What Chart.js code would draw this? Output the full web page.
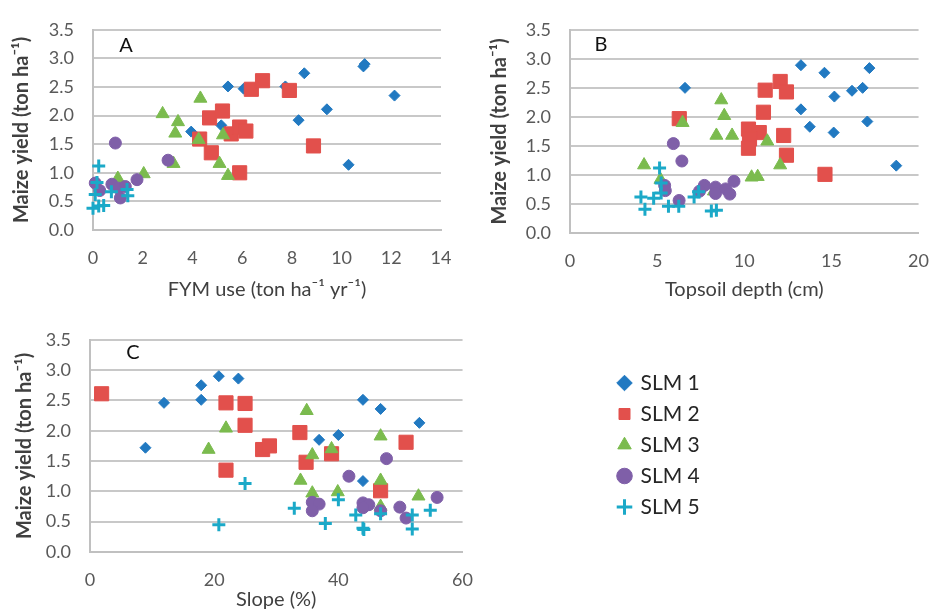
<!DOCTYPE html>
<html lang="en">
<head>
    <meta charset="UTF-8">
    <title>Maize yield vs FYM use, topsoil depth and slope</title>
    <script src="https://cdn.jsdelivr.net/npm/chart.js"></script>
    <style>
        body {
            margin: 0;
            background: #ffffff;
            font-family: Lato, "Noto Sans", sans-serif;
        }
        .wrap {
            position: relative;
            width: 946px;
            height: 613px;
            overflow: hidden;
        }
        .panel {
            position: absolute;
        }
        .letter {
            position: absolute;
            font-size: 20px;
            color: #111;
            transform: translate(-50%, -50%);
        }
    </style>
</head>
<body>
<div class="wrap">
    <div class="panel" style="left:0;top:0;width:470px;height:310px"><canvas id="chartA"></canvas></div>
    <div class="panel" style="left:470px;top:0;width:476px;height:310px"><canvas id="chartB"></canvas></div>
    <div class="panel" style="left:0;top:310px;width:490px;height:303px"><canvas id="chartC"></canvas></div>
    <div class="panel" style="left:609px;top:335px;width:250px;height:220px"><canvas id="legendChart"></canvas></div>
    <div class="letter" style="left:126px;top:44px">A</div>
    <div class="letter" style="left:601px;top:43px">B</div>
    <div class="letter" style="left:133px;top:351px">C</div>
</div>

<script>
    // series names
    const seriesNames = ['SLM 1', 'SLM 2', 'SLM 3', 'SLM 4', 'SLM 5'];

    // A: FYM use (ton/ha/yr) vs maize yield (ton/ha), [x, y]
    const fymSlm1 = [[3.95,1.72],[5.16,1.83],[5.43,2.51],[6.06,2.47],[7.74,2.51],[8.5,2.74],[8.27,1.92],[9.41,2.11],[10.28,1.14],[10.88,2.86],[10.93,2.9],[12.13,2.35]];
    const fymSlm2 = [[4.29,1.59],[4.69,1.96],[5.21,2.08],[4.76,1.35],[5.56,1.68],[5.9,1.8],[6.15,1.73],[5.9,1.0],[6.37,2.46],[6.82,2.61],[7.9,2.44],[8.87,1.47]];
    const fymSlm3 = [[2.8,2.03],[4.32,2.3],[3.42,1.89],[3.31,1.69],[4.25,1.58],[5.23,1.66],[3.24,1.16],[5.09,1.16],[5.43,0.95],[2.04,0.98],[1.0,0.9]];
    const fymSlm4 = [[0.9,1.52],[3.02,1.22],[1.77,0.88],[0.09,0.82],[0.27,0.69],[0.76,0.8],[1.03,0.73],[1.3,0.76],[1.1,0.56]];
    const fymSlm5 = [[0.23,1.12],[0.16,0.83],[0.09,0.62],[0.0,0.38],[0.23,0.42],[0.43,0.43],[0.74,0.67],[1.37,0.71],[1.4,0.6]];

    // B: topsoil depth (cm) vs maize yield
    const depthSlm1 = [[6.6,2.5],[13.25,2.89],[14.6,2.76],[17.18,2.84],[13.25,2.13],[13.76,1.83],[15.17,2.35],[16.18,2.45],[16.79,2.5],[17.06,1.92],[15.13,1.73],[18.72,1.16]];
    const depthSlm2 = [[6.27,1.97],[12.06,2.61],[11.2,2.46],[12.42,2.43],[11.1,2.08],[10.24,1.79],[10.86,1.73],[10.3,1.62],[10.24,1.46],[12.26,1.68],[12.42,1.34],[14.63,1.01]];
    const depthSlm3 = [[4.25,1.17],[5.19,0.92],[6.46,1.9],[8.68,2.29],[8.85,2.02],[8.4,1.68],[9.3,1.68],[11.32,1.58],[12.06,1.17],[10.42,0.96],[10.77,0.97],[8.26,0.72]];
    const depthSlm4 = [[5.93,1.54],[6.42,1.24],[5.43,0.82],[5.47,0.73],[6.26,0.56],[7.71,0.82],[7.43,0.72],[8.35,0.79],[8.35,0.68],[8.93,0.76],[9.17,0.67],[9.41,0.89]];
    const depthSlm5 = [[5.14,1.12],[5.23,0.86],[5.23,0.69],[4.07,0.62],[4.8,0.6],[4.3,0.41],[5.65,0.46],[6.24,0.46],[7.12,0.62],[7.38,0.71],[8.11,0.38],[8.4,0.39]];

    // C: slope (%) vs maize yield
    const slopeSlm1 = [[8.93,1.72],[11.92,2.46],[17.91,2.75],[17.91,2.51],[20.75,2.9],[23.9,2.86],[36.9,1.85],[40.0,1.93],[43.96,2.51],[46.8,2.36],[43.96,1.17],[53.05,2.13]];
    const slopeSlm2 = [[1.87,2.61],[21.9,2.46],[24.97,2.45],[24.97,2.09],[21.9,1.35],[27.8,1.69],[28.9,1.75],[33.8,1.97],[34.8,1.48],[38.9,1.62],[46.8,1.01],[50.9,1.81]];
    const slopeSlm3 = [[19.1,1.69],[21.9,2.04],[34.9,2.33],[35.8,1.6],[33.9,1.18],[35.8,0.97],[38.9,1.7],[39.9,0.99],[46.8,1.91],[46.8,1.18],[46.8,0.75],[52.9,0.92]];
    const slopeSlm4 = [[41.7,1.25],[47.75,1.54],[35.8,0.82],[36.9,0.79],[35.8,0.68],[43.96,0.81],[44.9,0.78],[43.96,0.73],[46.8,0.68],[49.9,0.74],[50.9,0.56],[55.9,0.9]];
    const slopeSlm5 = [[24.97,1.13],[20.75,0.45],[32.9,0.72],[37.9,0.47],[40.0,0.86],[42.8,0.61],[43.96,0.39],[44.1,0.37],[46.8,0.63],[51.9,0.61],[51.9,0.38],[54.8,0.69]];

    // axis ticks
    const yieldTicks = [0, 3.5, 0.5];  // min, max, step
    const fymTicks = [0, 14, 2];
    const depthTicks = [0, 20, 5];
    const slopeTicks = [0, 60, 20];

    const styles = [
        { pointStyle: 'rectRot', radius: 5.5, color: '#2179c1', borderWidth: 1 },
        { pointStyle: 'rect', radius: 10, color: '#e2504c', borderWidth: 1 },
        { pointStyle: 'triangle', radius: 7.5, color: '#7bbb4e', borderWidth: 1 },
        { pointStyle: 'circle', radius: 6, color: '#7f5fa8', borderWidth: 1 },
        { pointStyle: 'cross', radius: 6.5, color: '#1ba9c8', borderWidth: 3 }
    ];

    Chart.defaults.font.family = 'Lato, "Noto Sans", sans-serif';
    Chart.defaults.animation = false;

    function makeDatasets(seriesList) {
        return seriesList.map((pts, i) => ({
            label: seriesNames[i],
            data: pts.map(p => ({ x: p[0], y: p[1] })),
            pointStyle: styles[i].pointStyle,
            pointRadius: styles[i].radius,
            pointHoverRadius: styles[i].radius,
            backgroundColor: styles[i].color,
            borderColor: styles[i].color,
            pointBorderWidth: styles[i].borderWidth,
            borderWidth: styles[i].borderWidth,
            clip: false,
            order: 5 - i
        }));
    }

    function panel(id, seriesList, xTicks, xTitle, cfg) {
        new Chart(document.getElementById(id), {
            type: 'scatter',
            data: { datasets: makeDatasets(seriesList) },
            options: {
                responsive: true,
                maintainAspectRatio: false,
                layout: { padding: { top: cfg.top, right: cfg.right, bottom: 0, left: 0 } },
                plugins: { legend: { display: false }, tooltip: { enabled: false } },
                scales: {
                    x: {
                        type: 'linear',
                        min: xTicks[0], max: xTicks[1],
                        ticks: { stepSize: xTicks[2], color: '#595959', font: { size: 18 }, padding: cfg.xPad },
                        grid: { display: false, drawTicks: false },
                        border: { display: true, color: '#c0c0c0', width: 2 },
                        title: { display: true, text: xTitle, color: '#404040', font: { size: 20 }, padding: { top: 0, bottom: cfg.xTitlePad } },
                        afterFit: s => { s.height = cfg.xHeight; }
                    },
                    y: {
                        min: yieldTicks[0], max: yieldTicks[1],
                        ticks: { stepSize: yieldTicks[2], color: '#595959', font: { size: 18 }, padding: 19,
                                 callback: v => Number(v).toFixed(1) },
                        grid: { color: '#c8c8c8', lineWidth: 2, drawTicks: false },
                        border: { display: true, color: '#c0c0c0', width: 2 },
                        title: { display: true, text: 'Maize yield (ton ha\u207B\u00B9)', color: '#404040',
                                 font: { size: 20, weight: 'bold' }, padding: { top: cfg.yTitlePad, bottom: 0 } },
                        afterFit: s => { s.width = cfg.yWidth; }
                    }
                }
            }
        });
    }

    panel('chartA', [fymSlm1, fymSlm2, fymSlm3, fymSlm4, fymSlm5], fymTicks,
        'FYM use (ton ha\u207B\u00B9 yr\u207B\u00B9)',
        { top: 23, right: 29, xHeight: 80, yWidth: 93, xPad: 17, xTitlePad: 8, yTitlePad: 10 });

    panel('chartB', [depthSlm1, depthSlm2, depthSlm3, depthSlm4, depthSlm5], depthTicks,
        'Topsoil depth (cm)',
        { top: 23, right: 13, xHeight: 77, yWidth: 100, xPad: 17, xTitlePad: 8, yTitlePad: 18 });

    panel('chartC', [slopeSlm1, slopeSlm2, slopeSlm3, slopeSlm4, slopeSlm5], slopeTicks,
        'Slope (%)',
        { top: 24, right: 26, xHeight: 61, yWidth: 90, xPad: 17, xTitlePad: 1, yTitlePad: 13 });

    // legend only
    new Chart(document.getElementById('legendChart'), {
        type: 'scatter',
        data: {
            datasets: seriesNames.map((name, i) => ({
                label: name,
                data: [],
                pointStyle: styles[i].pointStyle,
                backgroundColor: styles[i].color,
                borderColor: styles[i].color,
                borderWidth: styles[i].borderWidth
            }))
        },
        options: {
            responsive: true,
            maintainAspectRatio: false,
            layout: { padding: 0 },
            plugins: {
                tooltip: { enabled: false },
                legend: {
                    position: 'left',
                    labels: {
                        usePointStyle: true,
                        boxWidth: 11,
                        boxHeight: 11,
                        padding: 10,
                        color: '#262626',
                        font: { size: 21 }
                    }
                }
            },
            scales: { x: { display: false }, y: { display: false } }
        }
    });
</script>
</body>
</html>
